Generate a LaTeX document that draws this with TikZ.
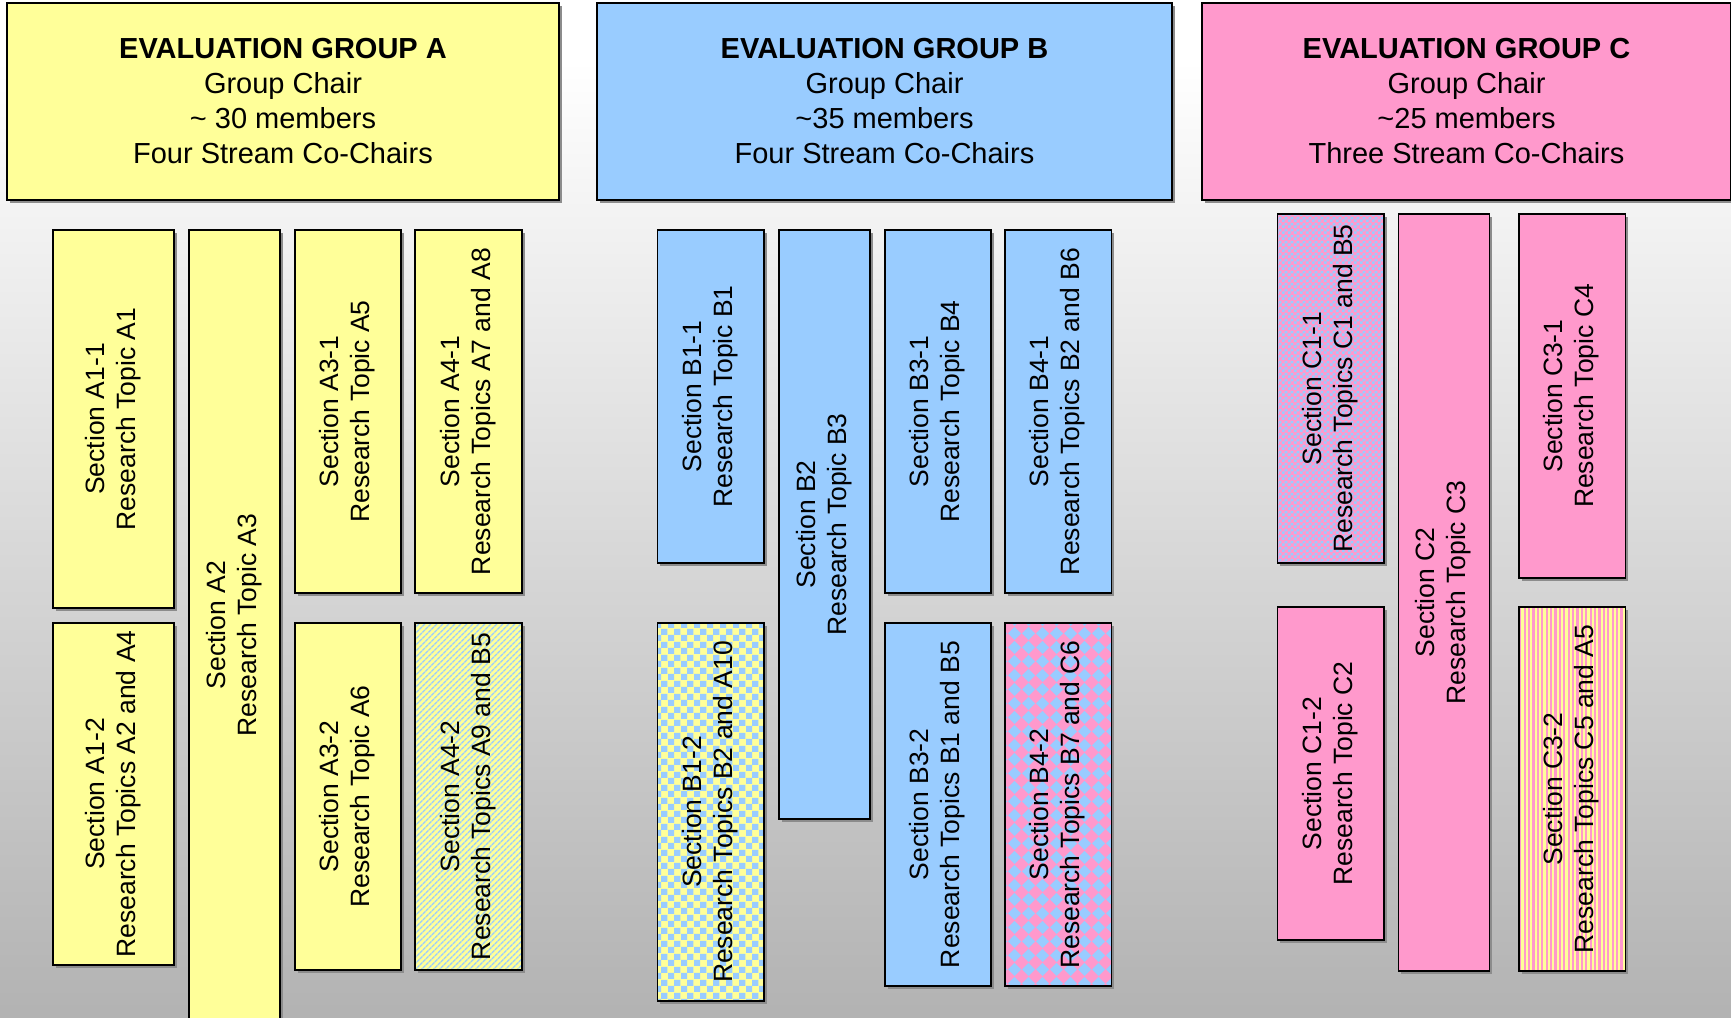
\documentclass[tikz,border=0pt]{standalone}
\usepackage{graphicx}
\usepackage{fontspec}
\usetikzlibrary{patterns,patterns.meta}
\setmainfont{Liberation Sans}
\definecolor{groupA}{HTML}{FFFF99}
\definecolor{groupB}{HTML}{99CCFF}
\definecolor{groupC}{HTML}{FF99CC}
\newcommand{\vtext}[2]{\rotatebox{90}{\begin{tabular}{@{}c@{}}#1\\#2\end{tabular}}}
% tiles for the shared sections
\pgfdeclarepatternformonly{checkbig}{\pgfpointorigin}{\pgfqpoint{12.6pt}{12.6pt}}{\pgfqpoint{12.6pt}{12.6pt}}%
	{\pgfpathrectangle{\pgfpointorigin}{\pgfqpoint{6.3pt}{6.3pt}}%
	\pgfpathrectangle{\pgfqpoint{6.3pt}{6.3pt}}{\pgfqpoint{6.3pt}{6.3pt}}\pgfusepath{fill}}
\pgfdeclarepatternformonly{checksmall}{\pgfpointorigin}{\pgfqpoint{5.6pt}{5.6pt}}{\pgfqpoint{5.6pt}{5.6pt}}%
	{\pgfpathrectangle{\pgfpointorigin}{\pgfqpoint{2.8pt}{2.8pt}}%
	\pgfpathrectangle{\pgfqpoint{2.8pt}{2.8pt}}{\pgfqpoint{2.8pt}{2.8pt}}\pgfusepath{fill}}
\pgfdeclarepatternformonly{diamondcheck}{\pgfpointorigin}{\pgfqpoint{14pt}{14pt}}{\pgfqpoint{14pt}{14pt}}%
	{\pgfpathmoveto{\pgfqpoint{7pt}{0pt}}\pgfpathlineto{\pgfqpoint{14pt}{7pt}}%
	\pgfpathlineto{\pgfqpoint{7pt}{14pt}}\pgfpathlineto{\pgfqpoint{0pt}{7pt}}\pgfpathclose\pgfusepath{fill}}

\begin{document}
\begin{tikzpicture}[x=1pt, y=-1pt,
			box/.style={
				draw,
				line width = 1.5pt,
				inner sep = 0pt,
				preaction={fill=black!45, transform canvas={shift={(2.5,2.5)}}}},
			head/.style={box, align=center, font=\fontsize{29}{35}\selectfont},
			sect/.style={box, font=\fontsize{26.5}{31}\selectfont},
			diagstripes/.style={preaction={fill=groupA},
				pattern={Lines[angle=45, distance=4pt, line width=1.5pt]}, pattern color=groupB},
			vstripes/.style={preaction={fill=groupC},
				pattern={Lines[angle=90, distance=4.4pt, line width=2.2pt]}, pattern color=groupA},
			checker/.style 2 args={preaction={fill=#1}, pattern=checkbig, pattern color=#2},
			finechecker/.style 2 args={preaction={fill=#1}, pattern=checksmall, pattern color=#2},
			diamonds/.style={preaction={fill=groupC}, pattern=diamondcheck, pattern color=groupB}]
			\useasboundingbox (0,0) rectangle (1731,1017);
			\fill[white] (0,0) rectangle (1731,60);
			\shade[top color=white, bottom color=black!30] (0,60) rectangle (1731,1017);
			% group A
			\node (ga) at (283,101.5) [head, fill=groupA, minimum width=552, minimum height=197]
				{\textbf{EVALUATION GROUP A}\\Group Chair\\\textasciitilde{} 30 members\\Four Stream Co-Chairs};
			\node (a11) at (113.5,419) [sect, fill=groupA, minimum width=121, minimum height=378] {\vtext{Section A1-1}{Research Topic A1}};
			\node (a12) at (113.5,794) [sect, fill=groupA, minimum width=121, minimum height=342] {\vtext{Section A1-2}{Research Topics A2 and A4}};
			\node (a2) at (234.5,625) [sect, fill=groupA, minimum width=91, minimum height=790] {\vtext{Section A2}{Research Topic A3}};
			\node (a31) at (348,411.5) [sect, fill=groupA, minimum width=106, minimum height=363] {\vtext{Section A3-1}{Research Topic A5}};
			\node (a32) at (348,796.5) [sect, fill=groupA, minimum width=106, minimum height=347] {\vtext{Section A3-2}{Research Topic A6}};
			\node (a41) at (468.5,411.5) [sect, fill=groupA, minimum width=107, minimum height=363] {\vtext{Section A4-1}{Research Topics A7 and A8}};
			\node (a42) at (468.5,796.5) [sect, diagstripes, minimum width=107, minimum height=347] {\vtext{Section A4-2}{Research Topics A9 and B5}};
			% group B
			\node (gb) at (884.5,101.5) [head, fill=groupB, minimum width=575, minimum height=197]
				{\textbf{EVALUATION GROUP B}\\Group Chair\\\textasciitilde35 members\\Four Stream Co-Chairs};
			\node (b11) at (710.75,396.5) [sect, fill=groupB, minimum width=106.5, minimum height=333] {\vtext{Section B1-1}{Research Topic B1}};
			\node (b12) at (710.75,812) [sect, checker={groupA}{groupB}, minimum width=106.5, minimum height=378] {\vtext{Section B1-2}{Research Topics B2 and A10}};
			\node (b2) at (824.5,524.5) [sect, fill=groupB, minimum width=91, minimum height=589] {\vtext{Section B2}{Research Topic B3}};
			\node (b31) at (938,411.5) [sect, fill=groupB, minimum width=106, minimum height=363] {\vtext{Section B3-1}{Research Topic B4}};
			\node (b32) at (938,804.5) [sect, fill=groupB, minimum width=106, minimum height=363] {\vtext{Section B3-2}{Research Topics B1 and B5}};
			\node (b41) at (1058.25,411.5) [sect, fill=groupB, minimum width=106.5, minimum height=363] {\vtext{Section B4-1}{Research Topics B2 and B6}};
			\node (b42) at (1058.25,804.5) [sect, diamonds, minimum width=106.5, minimum height=363] {\vtext{Section B4-2}{Research Topics B7 and C6}};
			% group C
			\node (gc) at (1466.5,101.5) [head, fill=groupC, minimum width=529, minimum height=197]
				{\textbf{EVALUATION GROUP C}\\Group Chair\\\textasciitilde25 members\\Three Stream Co-Chairs};
			\node (c11) at (1330.75,388.5) [sect, finechecker={groupC}{groupB}, minimum width=106.5, minimum height=349] {\vtext{Section C1-1}{Research Topics C1 and B5}};
			\node (c12) at (1330.75,773.5) [sect, fill=groupC, minimum width=106.5, minimum height=333] {\vtext{Section C1-2}{Research Topic C2}};
			\node (c2) at (1444,592.5) [sect, fill=groupC, minimum width=91, minimum height=757] {\vtext{Section C2}{Research Topic C3}};
			\node (c31) at (1572.25,396) [sect, fill=groupC, minimum width=106.5, minimum height=364] {\vtext{Section C3-1}{Research Topic C4}};
			\node (c32) at (1572.25,789) [sect, vstripes, minimum width=106.5, minimum height=364] {\vtext{Section C3-2}{Research Topics C5 and A5}};
\end{tikzpicture}
\end{document}
